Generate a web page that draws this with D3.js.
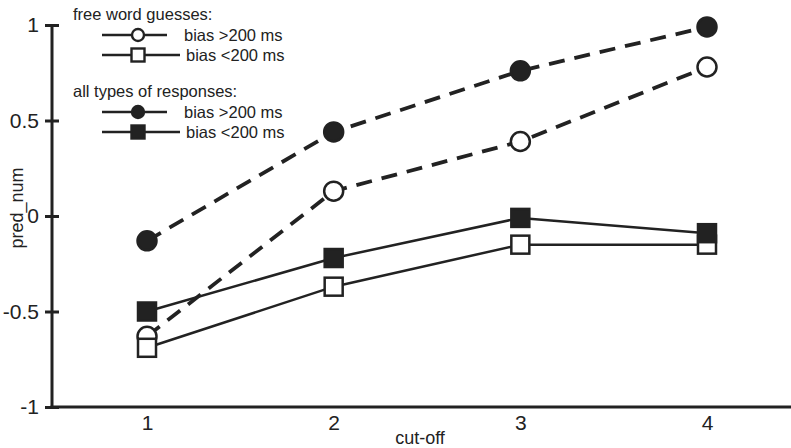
<!DOCTYPE html>
<html>
<head>
<meta charset="utf-8">
<script src="https://cdn.jsdelivr.net/npm/d3@7"></script>
<style>
  html, body { margin: 0; padding: 0; background: #fff; }
  svg { display: block; }
  text { font-family: "Liberation Sans", Arial, sans-serif; fill: #222; }
</style>
</head>
<body>
<svg id="chart" width="791" height="448"></svg>
<script>
// cut-off levels on the x axis
const cutoffs = [1, 2, 3, 4];
const xTickLabels = ["1", "2", "3", "4"];
const yTicks = [-1, -0.5, 0, 0.5, 1];
const yTickLabels = ["-1", "-0.5", "0", "0.5", "1"];

// free word guesses
const freeBiasOver200 = [-0.63, 0.13, 0.39, 0.78];
const freeBiasUnder200 = [-0.69, -0.37, -0.15, -0.15];
// all types of responses
const allBiasOver200 = [-0.13, 0.44, 0.76, 0.99];
const allBiasUnder200 = [-0.50, -0.22, -0.01, -0.09];

const series = [
  { values: freeBiasOver200, shape: "circle", filled: false, dashed: true },
  { values: freeBiasUnder200, shape: "square", filled: false, dashed: false },
  { values: allBiasOver200, shape: "circle", filled: true, dashed: true },
  { values: allBiasUnder200, shape: "square", filled: true, dashed: false }
];

const legendGroups = [
  { title: "free word guesses:", items: [
    { label: "bias >200 ms", shape: "circle", filled: false },
    { label: "bias <200 ms", shape: "square", filled: false } ] },
  { title: "all types of responses:", items: [
    { label: "bias >200 ms", shape: "circle", filled: true },
    { label: "bias <200 ms", shape: "square", filled: true } ] }
];

const ink = "#222";
const svg = d3.select("#chart");

const x = d3.scaleLinear().domain([0.491, 4.45]).range([52, 791]);
const y = d3.scaleLinear().domain([-1, 1]).range([407, 25]);
const x0 = x.range()[0];

// y axis with ticks crossing the spine
const yAxis = svg.append("g")
  .attr("transform", `translate(${x0},0)`)
  .call(d3.axisLeft(y).tickValues(yTicks).tickSize(7).tickPadding(6)
    .tickFormat((d, i) => yTickLabels[i]));
yAxis.select(".domain").remove();
yAxis.selectAll(".tick line").attr("x1", 7).attr("x2", -7)
  .attr("stroke", ink).attr("stroke-width", 3);
yAxis.selectAll(".tick text")
  .style("font-family", '"Liberation Sans", Arial, sans-serif')
  .attr("font-size", 21).attr("fill", ink);
yAxis.append("line")
  .attr("x1", 0).attr("x2", 0).attr("y1", y(1)).attr("y2", y(-1) + 1.5)
  .attr("stroke", ink).attr("stroke-width", 3);

// x axis without tick marks
const xAxis = svg.append("g")
  .attr("transform", `translate(0,${y(-1)})`)
  .call(d3.axisBottom(x).tickValues(cutoffs).tickSize(0).tickPadding(8)
    .tickFormat((d, i) => xTickLabels[i]));
xAxis.select(".domain").remove();
xAxis.selectAll(".tick text")
  .style("font-family", '"Liberation Sans", Arial, sans-serif')
  .attr("font-size", 21).attr("fill", ink);
xAxis.append("line")
  .attr("x1", x0 - 1.5).attr("x2", 791).attr("y1", 0).attr("y2", 0)
  .attr("stroke", ink).attr("stroke-width", 3);

// axis titles
svg.append("text").attr("x", 420).attr("y", 444)
  .attr("text-anchor", "middle").attr("font-size", 18).text("cut-off");
svg.append("text")
  .attr("transform", `translate(23,${y(0) - 8}) rotate(-90)`)
  .attr("text-anchor", "middle").attr("font-size", 18).text("pred_num");

function drawMarker(g, shape, filled, cx, cy, size, sw) {
  if (shape === "circle") {
    g.append("circle").attr("cx", cx).attr("cy", cy).attr("r", size / 2)
      .attr("fill", filled ? ink : "#fff").attr("stroke", ink).attr("stroke-width", sw);
  } else {
    g.append("rect").attr("x", cx - size / 2).attr("y", cy - size / 2)
      .attr("width", size).attr("height", size)
      .attr("fill", filled ? ink : "#fff").attr("stroke", ink).attr("stroke-width", sw);
  }
}

// series lines and markers
const line = d3.line().x((d, i) => x(cutoffs[i])).y(d => y(d));
series.forEach(s => {
  const g = svg.append("g");
  g.append("path").datum(s.values).attr("d", line)
    .attr("fill", "none").attr("stroke", ink)
    .attr("stroke-width", s.dashed ? 3.8 : 2.5)
    .attr("stroke-dasharray", s.dashed ? "16 10" : null);
  s.values.forEach((v, i) => {
    drawMarker(g, s.shape, s.filled, x(cutoffs[i]), y(v),
      s.shape === "circle" ? 19 : 18, 2.5);
  });
});

// legend
const lg = svg.append("g");
let ly = 20;
legendGroups.forEach((grp, gi) => {
  lg.append("text").attr("x", 73).attr("y", ly).attr("font-size", 16.5).text(grp.title);
  grp.items.forEach((it, ii) => {
    const rowY = ly + 15 + ii * 20;
    const lineEnd = it.shape === "circle" ? 167 : 180;
    lg.append("line").attr("x1", 102).attr("x2", lineEnd)
      .attr("y1", rowY).attr("y2", rowY).attr("stroke", ink).attr("stroke-width", 2.5);
    drawMarker(lg, it.shape, it.filled, 138, rowY, it.shape === "circle" ? 12 : 13, 2.4);
    lg.append("text").attr("x", it.shape === "circle" ? 184 : 186).attr("y", rowY + 6)
      .attr("font-size", 16.5).text(it.label);
  });
  ly += 77;
});
</script>
</body>
</html>
